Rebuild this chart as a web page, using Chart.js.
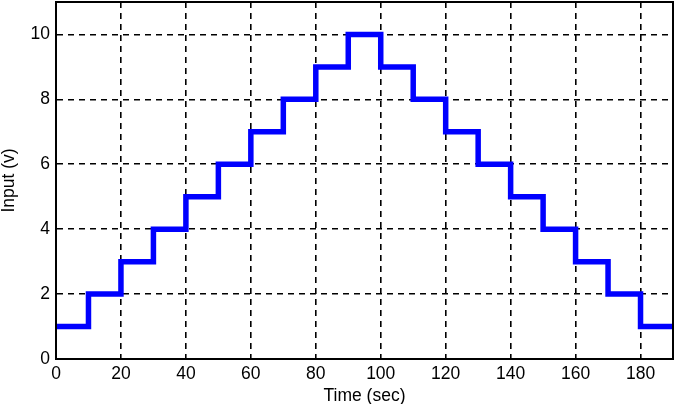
<!DOCTYPE html>
<html>
<head>
<meta charset="utf-8">
<script src="https://cdn.jsdelivr.net/npm/chart.js@4/dist/chart.umd.min.js"></script>
<style>
  html, body { margin: 0; padding: 0; background: #fff; }
  #wrap { width: 676px; height: 404px; }
</style>
</head>
<body>
<div id="wrap"><canvas id="chart" width="676" height="404"></canvas></div>
<script>
// step input: level held from each time until the next one
const times = [0, 10, 20, 30, 40, 50, 60, 70, 80, 90, 100, 110, 120, 130, 140, 150, 160, 170, 180, 190];
const inputs = [1, 2, 3, 4, 5, 6, 7, 8, 9, 10, 9, 8, 7, 6, 5, 4, 3, 2, 1, 1];
const xTicks = [0, 20, 40, 60, 80, 100, 120, 140, 160, 180];
const yTicks = [0, 2, 4, 6, 8, 10];

const boxPlugin = {
    id: 'box',
    afterDraw(chart) {
        const a = chart.chartArea;
        const ctx = chart.ctx;
        ctx.save();
        ctx.strokeStyle = '#000';
        ctx.lineWidth = 2;
        ctx.strokeRect(a.left, a.top, a.right - a.left, a.bottom - a.top);
        ctx.restore();
    }
};

const font = { family: 'Liberation Sans', size: 17.5, lineHeight: 1.1 };
const gridStyle = { color: '#000', lineWidth: 1.6, drawTicks: false };

new Chart(document.getElementById('chart').getContext('2d'), {
    type: 'line',
    data: {
        datasets: [{
            data: times.map((t, i) => ({x: t, y: inputs[i]})),
            borderColor: '#0000ff',
            borderWidth: 5.5,
            pointRadius: 0,
            stepped: true,
            fill: false
        }]
    },
    options: {
        responsive: false,
        animation: false,
        layout: { padding: { top: 2, right: 3, left: 0, bottom: 0 } },
        plugins: { legend: { display: false }, tooltip: { enabled: false } },
        scales: {
            x: {
                type: 'linear',
                min: 0,
                max: 190,
                afterBuildTicks: axis => { axis.ticks = xTicks.map(v => ({value: v})); },
                afterFit: axis => { axis.height = 45; axis.paddingLeft = 0; axis.paddingRight = 0; },
                grid: gridStyle,
                border: { display: true, color: '#000', width: 2, dash: [6, 5] },
                ticks: { color: '#000', font: font, padding: 6, maxRotation: 0 },
                title: { display: true, text: 'Time (sec)', color: '#000', font: font, padding: { top: 0, bottom: -2 } }
            },
            y: {
                min: 0,
                max: 11,
                afterBuildTicks: axis => { axis.ticks = yTicks.map(v => ({value: v})); },
                afterFit: axis => { axis.width = 56; axis.paddingTop = 0; axis.paddingBottom = 0; },
                grid: gridStyle,
                border: { display: true, color: '#000', width: 2, dash: [6, 5] },
                ticks: { color: '#000', font: font, padding: 6 },
                title: { display: true, text: 'Input (v)', color: '#000', font: font, padding: 0 }
            }
        }
    },
    plugins: [boxPlugin]
});
</script>
</body>
</html>
